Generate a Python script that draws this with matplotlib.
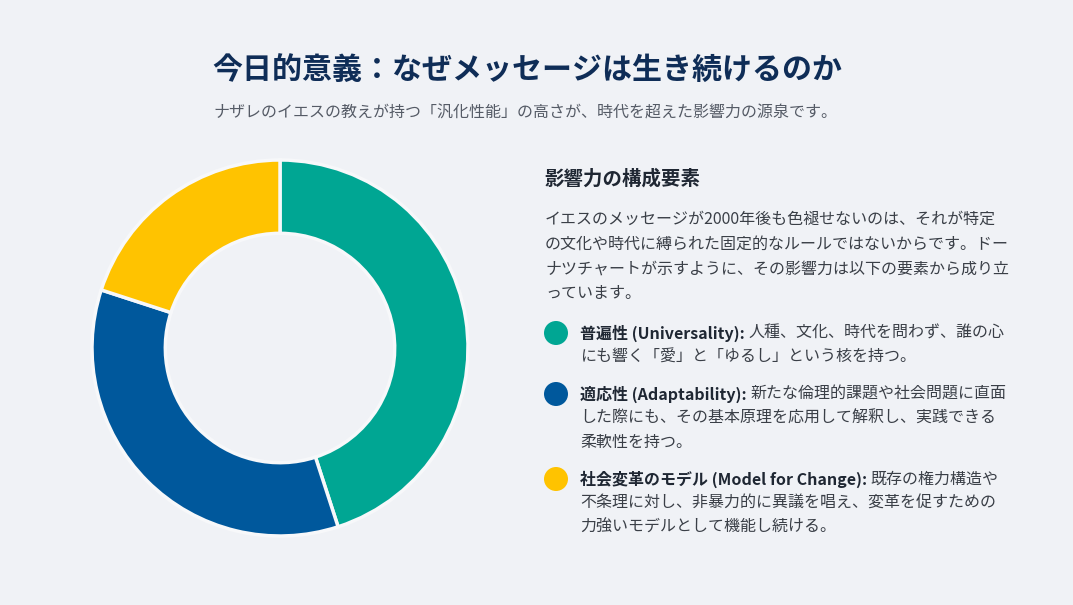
import matplotlib
matplotlib.use("Agg")
import matplotlib.pyplot as plt
from matplotlib.patches import Ellipse

plt.rcParams['font.family'] = ['Noto Sans CJK JP', 'DejaVu Sans']

labels = ['普遍性 (Universality)', '適応性 (Adaptability)', '社会変革のモデル (Model for Change)']
shares = [45, 35, 20]
colors = ['#00a693', '#00589c', '#ffc300']

title = '今日的意義：なぜメッセージは生き続けるのか'
subtitle = 'ナザレのイエスの教えが持つ「汎化性能」の高さが、時代を超えた影響力の源泉です。'
heading = '影響力の構成要素'
paragraph = ['イエスのメッセージが2000年後も色褪せないのは、それが特定',
             'の文化や時代に縛られた固定的なルールではないからです。ドー',
             'ナツチャートが示すように、その影響力は以下の要素から成り立',
             'っています。']
item_text = [
    ['人種、文化、時代を問わず、誰の心', 'にも響く「愛」と「ゆるし」という核を持つ。'],
    ['新たな倫理的課題や社会問題に直面', 'した際にも、その基本原理を応用して解釈し、実践できる', '柔軟性を持つ。'],
    ['既存の権力構造や', '不条理に対し、非暴力的に異議を唱え、変革を促すための', '力強いモデルとして機能し続ける。'],
]

W, H = 1073, 605
bg = '#f0f2f6'
fig = plt.figure(figsize=(W / 100, H / 100), dpi=100, facecolor=bg)


def fx(x):
    return x / W


def fy(y):
    return 1 - y / H


fig.text(fx(527), fy(70), title, ha='center', va='center', fontsize=21.6,
         fontweight='bold', color='#0f2d57')
fig.text(fx(525), fy(113), subtitle, ha='center', va='center', fontsize=11.5,
         color='#555b66')

# donut
ax = fig.add_axes([92 / W, (H - 536) / H, 376 / W, 376 / H])
ax.set_facecolor(bg)
ax.pie(shares, colors=colors, startangle=90, counterclock=False, radius=1,
       wedgeprops=dict(width=0.39, edgecolor='#f7f8fa', linewidth=2.5))
ax.set_xlim(-1.0, 1.0)
ax.set_ylim(-1.0, 1.0)
ax.set_aspect('equal')
ax.axis('off')

# right side text
fig.text(fx(545), fy(179), heading, ha='left', va='center', fontsize=14,
         fontweight='bold', color='#1f2733')
for i, line in enumerate(paragraph):
    fig.text(fx(545), fy(219 + i * 24.8), line, ha='left', va='center',
             fontsize=11.5, color='#3a3f47')

renderer = fig.canvas.get_renderer()
item_y = [333, 394, 479]
for lab, lines, col, y0 in zip(labels, item_text, colors, item_y):
    fig.patches.append(Ellipse((fx(556), fy(y0)), 24 / W, 24 / H,
                               transform=fig.transFigure,
                               facecolor=col, edgecolor='none'))
    t = fig.text(fx(580), fy(y0), lab + ': ', ha='left', va='center', fontsize=11.5,
                 fontweight='bold', color='#1f2733')
    bb = t.get_window_extent(renderer)
    fig.text(bb.x1 / W, fy(y0), lines[0], ha='left', va='center', fontsize=11.5,
             color='#3a3f47')
    for j, line in enumerate(lines[1:], start=1):
        fig.text(fx(580), fy(y0 + j * 24), line, ha='left', va='center',
                 fontsize=11.5, color='#3a3f47')

fig.savefig('out.png', dpi=100, facecolor=bg)
